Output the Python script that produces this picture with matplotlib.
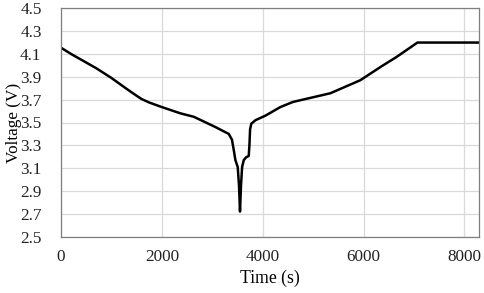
import matplotlib
matplotlib.use("Agg")
import matplotlib.pyplot as plt

# discharge / rest / charge curve
time_s = [0, 200, 400, 700, 1000, 1300, 1480, 1600, 1750, 2000, 2370, 2634,
          3063, 3327, 3390, 3426, 3459, 3505, 3530, 3550, 3570, 3592, 3624,
          3671, 3723, 3737, 3750, 3775, 3822, 3856, 4054, 4350, 4600, 5341,
          5935, 6350, 6662, 7069, 8290]
voltage = [4.155, 4.10, 4.05, 3.975, 3.89, 3.795, 3.74, 3.705, 3.675, 3.635,
           3.58, 3.55, 3.46, 3.40, 3.35, 3.26, 3.17, 3.11, 2.95, 2.72, 2.95,
           3.11, 3.17, 3.195, 3.207, 3.30, 3.44, 3.49, 3.507, 3.52, 3.56,
           3.635, 3.68, 3.756, 3.87, 3.99, 4.076, 4.20, 4.20]

x_ticks = [0, 2000, 4000, 6000, 8000]
y_ticks = [2.5, 2.7, 2.9, 3.1, 3.3, 3.5, 3.7, 3.9, 4.1, 4.3, 4.5]

plt.rcParams["font.family"] = ["Liberation Serif", "DejaVu Serif"]

fig = plt.figure(figsize=(4.84, 2.93), dpi=100)
ax = fig.add_axes([61 / 484, 1 - 236.7 / 293, 418 / 484, 228.4 / 293])

ax.plot(time_s, voltage, color="black", lw=1.8, solid_joinstyle="round")

ax.set_xlim(0, 8290)
ax.set_ylim(2.5, 4.5)
ax.set_xticks(x_ticks)
ax.set_yticks(y_ticks)
ax.set_yticklabels([f"{v:.1f}" for v in y_ticks])
ax.grid(True, color="#d9d9d9", lw=0.9)
ax.set_axisbelow(True)
ax.tick_params(length=0, labelsize=12.3, colors="#222222")
ax.tick_params(axis="y", pad=14)
ax.tick_params(axis="x", pad=9)
for s in ax.spines.values():
    s.set_color("#7f7f7f")
    s.set_linewidth(0.9)

ax.set_xlabel("Time (s)", fontsize=12.7, labelpad=3)
ax.set_ylabel("Voltage (V)", fontsize=12.3)
ax.yaxis.set_label_coords(-0.093, 0.5)

fig.savefig("out.png", dpi=100)
